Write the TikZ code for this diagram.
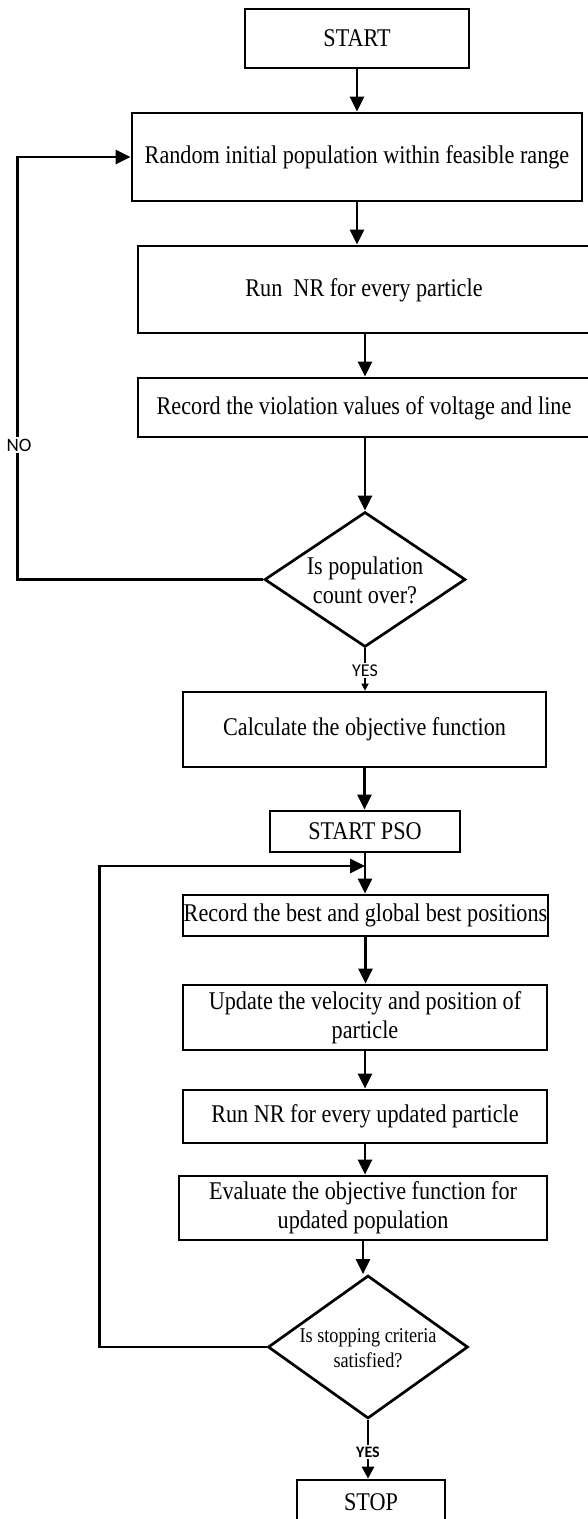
\documentclass[tikz,border=0pt]{standalone}
\usepackage{fontspec}
\setmainfont[FakeStretch=0.87]{Liberation Serif}
\newfontfamily\lblfont{Carlito}
\usetikzlibrary{arrows.meta,shapes.geometric}
\begin{document}
\begin{tikzpicture}[x=1pt,y=-1pt,
  box/.style={draw, line width=2.7pt, rectangle, inner sep=0pt, align=center, font=\fontsize{25.5}{29}\selectfont},
  dec/.style={draw, line width=2.7pt, diamond, inner sep=0pt},
  dectext/.style={align=center, inner sep=0pt},
  flow/.style={line width=2.7pt, -{Triangle[length=15pt,width=14pt]}},
  lbl/.style={fill=white, inner sep=1.5pt, font=\lblfont\fontsize{19}{21}\selectfont}]
\useasboundingbox (0,0) rectangle (588,1519);

\node[box, minimum width=224pt, minimum height=59pt] (start) at (357,38.5) {START};
\node[box, minimum width=450pt, minimum height=88pt] (init) at (357,157) {Random initial population within feasible range};
\node[box, minimum width=454pt, minimum height=87pt] (nr) at (365,289.5) {};
\node[font=\fontsize{25.5}{29}\selectfont] (nrt) at (364,290) {Run\ \ NR for every particle};
\node[box, minimum width=454pt, minimum height=59pt] (viol) at (365,407.5) {};
\node[font=\fontsize{25.5}{29}\selectfont] (violt) at (364,408) {Record the violation values of voltage and line};
\node[dec, minimum width=201pt, minimum height=135pt] (d1) at (365,579.5) {};
\node[dectext, font=\fontsize{25.5}{29}\selectfont] (d1t) at (365,580) {Is population\\count over?};
\node[box, minimum width=363pt, minimum height=75pt] (calc) at (364.5,729.5) {Calculate the objective function};
\node[box, minimum width=190pt, minimum height=41pt] (pso) at (365,831.5) {START PSO};
\node[box, minimum width=365pt, minimum height=41pt] (best) at (365.5,915.5) {Record the best and global best positions};
\node[box, minimum width=364pt, minimum height=65pt] (upd) at (365,1017.5) {Update the velocity and position of\\particle};
\node[box, minimum width=364pt, minimum height=53pt] (nr2) at (365,1116.5) {Run NR for every updated particle};
\node[box, minimum width=368pt, minimum height=64pt] (eval) at (363,1208) {Evaluate the objective function for\\updated population};
\node[dec, minimum width=200pt, minimum height=143pt] (d2) at (368,1347) {};
\node[dectext, font=\fontsize{21}{25}\selectfont] (d2t) at (368,1348) {Is stopping criteria\\satisfied?};
\node[box, minimum width=148pt, minimum height=50pt] (stop) at (371,1505) {};
\node[font=\fontsize{25.5}{29}\selectfont] (stopt) at (371,1502) {STOP};

\coordinate (j) at (365,866);

\draw[flow] (start.south) -- (start.south |- init.north);
\draw[flow] (init.south) -- (init.south |- nr.north);
\draw[flow] (nr.south) -- (nr.south |- viol.north);
\draw[flow] (viol.south) -- (viol.south |- d1.north);
\draw[line width=2.4pt, -{Triangle[length=7pt,width=7pt]}] (d1.south) -- node[lbl, pos=0.53, font=\lblfont\fontsize{18}{20}\selectfont] (yes1) {YES} (d1.south |- calc.north);
\draw[flow] (calc.south) -- (calc.south |- pso.north);
\draw[flow] (pso.south) -- (pso.south |- best.north);
\draw[flow] (best.south) -- (best.south |- upd.north);
\draw[flow] (upd.south) -- (upd.south |- nr2.north);
\draw[flow] (nr2.south) -- (nr2.south |- eval.north);
\draw[flow] (eval.south) -- (eval.south |- d2.north);
\draw[line width=2.7pt, -{Triangle[length=12pt,width=12pt]}] (d2.south) -- node[lbl, pos=0.55, font=\lblfont\bfseries\fontsize{16}{18}\selectfont] (yes2) {YES} (d2.south |- stop.north);

\draw[flow] (d1.west) -- ++(-246,0) |- (init.west);
\node[lbl] (no) at (19,445) {NO};
\draw[flow] (d2.west) -- ++(-167,0) |- (j);
\end{tikzpicture}
\end{document}
